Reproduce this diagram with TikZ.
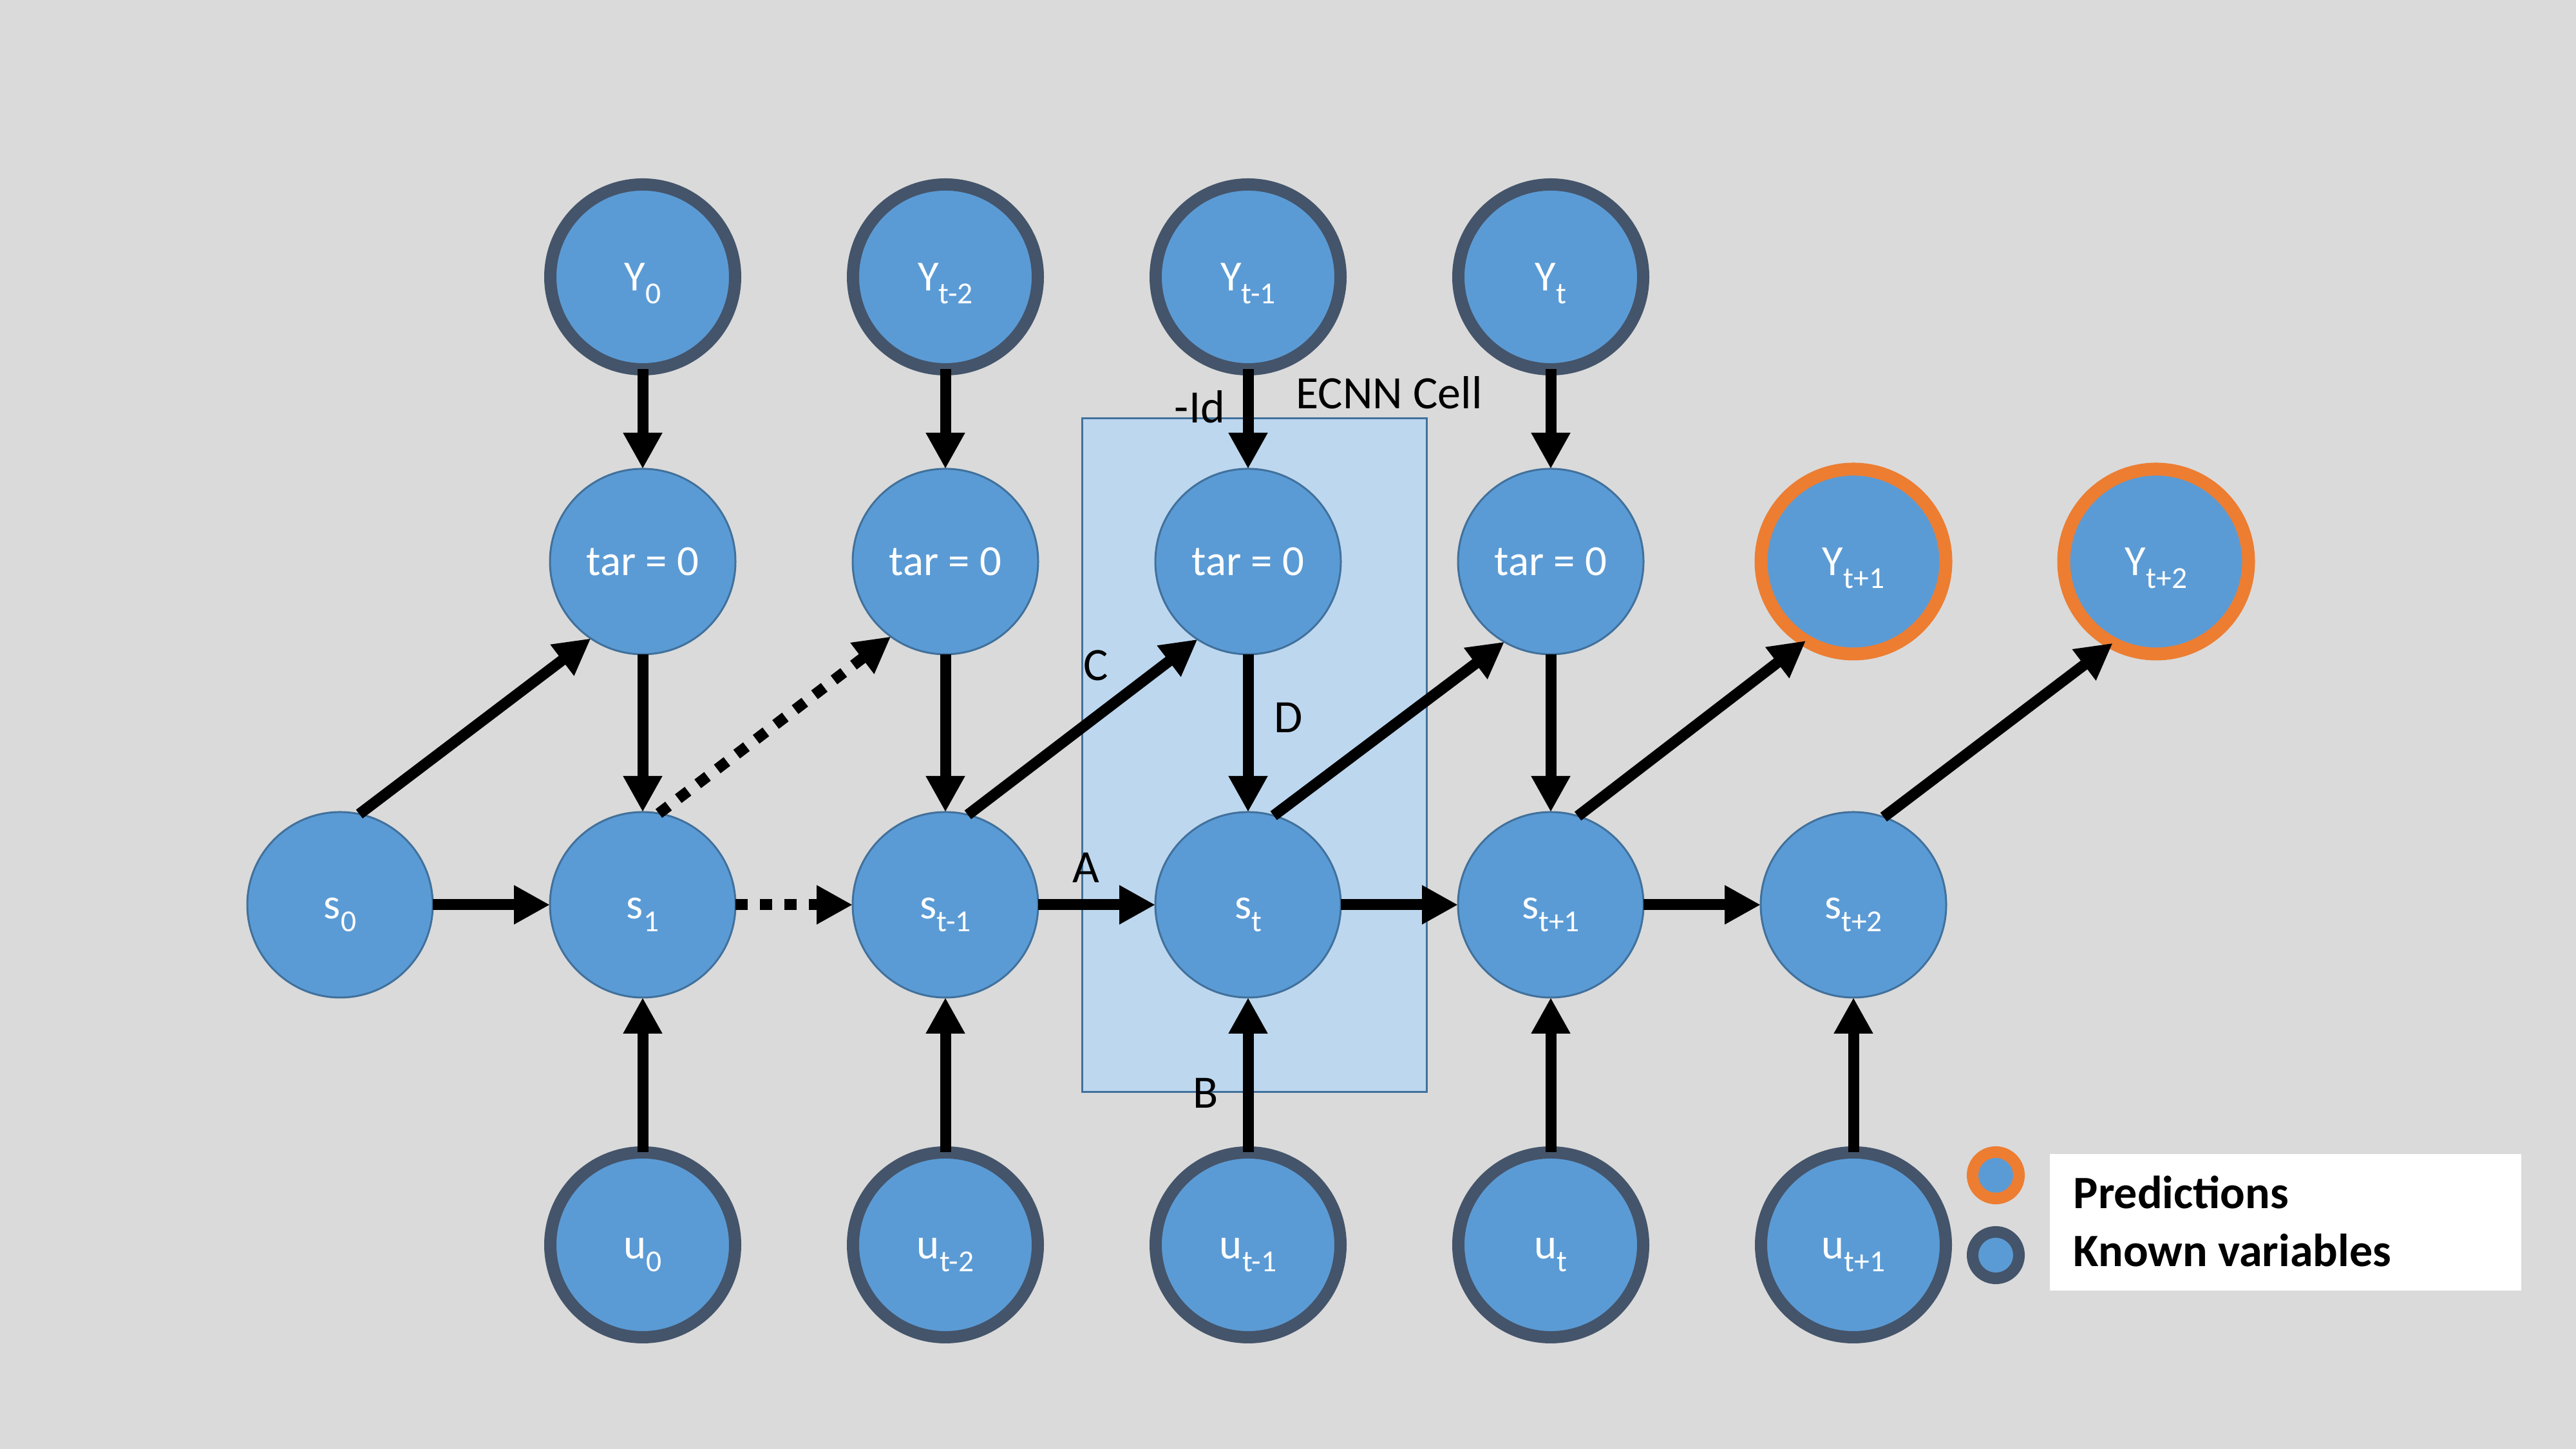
\documentclass[tikz,border=0pt]{standalone}
\usepackage{fontspec}
\setmainfont{Carlito}
\usepackage{tikz}
\usetikzlibrary{arrows.meta}

\definecolor{fons}{HTML}{DADADA}
\definecolor{blau}{HTML}{5B9BD5}
\definecolor{vora}{HTML}{41719C}
\definecolor{cella}{HTML}{BDD7EE}
\definecolor{conegut}{HTML}{44546A}
\definecolor{taronja}{HTML}{ED7D31}

\newcommand{\ix}[1]{\raisebox{-5.5pt}[0pt][0pt]{\fontsize{13.5}{14}\selectfont #1}}

\tikzset{
  estat/.style={circle, fill=blau, draw=vora, line width=0.3mm, minimum size=28.8mm,
    outer sep=0pt, inner sep=0pt, text=white, font=\fontsize{19}{22}\selectfont,
    text height=12.5pt, text depth=0pt},
  known/.style={estat, draw=conegut, line width=1.9mm, minimum size=28.7mm},
  pred/.style={estat, draw=taronja, line width=2mm, minimum size=28.7mm},
  fletxa/.style={line width=1.7mm, -{Triangle[length=5.6mm, width=5.7mm]}},
  puntejat/.style={fletxa, dash pattern=on 1.9mm off 1.9mm},
  etiq/.style={font=\fontsize{20.5}{24}\selectfont, inner sep=0pt}
}

\begin{document}
\begin{tikzpicture}
    % Fons
    \fill[fons] (0,0) rectangle (40,22.5);
    \useasboundingbox (0,0) rectangle (40,22.5);

    % Cel·la ECNN
    \draw[fill=cella, draw=vora, line width=0.3mm] (16.80,5.54) rectangle (22.15,16.00);

    % Nodes Y
    \node[known] (Y0)   at (9.98,18.2)  {Y\ix{0}};
    \node[known] (Ytm2) at (14.68,18.2) {Y\ix{t-2}};
    \node[known] (Ytm1) at (19.38,18.2) {Y\ix{t-1}};
    \node[known] (Yt)   at (24.08,18.2) {Y\ix{t}};
    \node[pred]  (Ytp1) at (28.78,13.78) {Y\ix{t+1}};
    \node[pred]  (Ytp2) at (33.48,13.78) {Y\ix{t+2}};

    % Nodes tar
    \node[estat] (tar1) at (9.98,13.78)  {tar = 0};
    \node[estat] (tar2) at (14.68,13.78) {tar = 0};
    \node[estat] (tar3) at (19.38,13.78) {tar = 0};
    \node[estat] (tar4) at (24.08,13.78) {tar = 0};

    % Nodes s
    \node[estat] (s0)   at (5.28,8.45)  {s\ix{0}};
    \node[estat] (s1)   at (9.98,8.45)  {s\ix{1}};
    \node[estat] (stm1) at (14.68,8.45) {s\ix{t-1}};
    \node[estat] (st)   at (19.38,8.45) {s\ix{t}};
    \node[estat] (stp1) at (24.08,8.45) {s\ix{t+1}};
    \node[estat] (stp2) at (28.78,8.45) {s\ix{t+2}};

    % Nodes u
    \node[known] (u0)   at (9.98,3.17)  {u\ix{0}};
    \node[known] (utm2) at (14.68,3.17) {u\ix{t-2}};
    \node[known] (utm1) at (19.38,3.17) {u\ix{t-1}};
    \node[known] (ut)   at (24.08,3.17) {u\ix{t}};
    \node[known] (utp1) at (28.78,3.17) {u\ix{t+1}};

    % Fletxes verticals
    \draw[fletxa] (Y0.south) -- (tar1.north);
    \draw[fletxa] (Ytm2.south) -- (tar2.north);
    \draw[fletxa] (Ytm1.south) -- (tar3.north);
    \draw[fletxa] (Yt.south) -- (tar4.north);
    \draw[fletxa] (tar1.south) -- (s1.north);
    \draw[fletxa] (tar2.south) -- (stm1.north);
    \draw[fletxa] (tar3.south) -- (st.north);
    \draw[fletxa] (tar4.south) -- (stp1.north);
    \draw[fletxa] (u0.north) -- (s1.south);
    \draw[fletxa] (utm2.north) -- (stm1.south);
    \draw[fletxa] (utm1.north) -- (st.south);
    \draw[fletxa] (ut.north) -- (stp1.south);
    \draw[fletxa] (utp1.north) -- (stp2.south);

    % Fletxes horitzontals
    \draw[fletxa] (s0.east) -- (s1.west);
    \draw[puntejat] (s1.east) -- (stm1.west);
    \draw[fletxa] (stm1.east) -- (st.west);
    \draw[fletxa] (st.east) -- (stp1.west);
    \draw[fletxa] (stp1.east) -- (stp2.west);

    % Fletxes diagonals
    \draw[fletxa] (s0.78) -- (tar1.236);
    \draw[puntejat] (s1.80) -- (tar2.234);
    \draw[fletxa] (stm1.76) -- (tar3.237);
    \draw[fletxa] (st.74) -- (tar4.240);
    \draw[fletxa] (stp1.73) -- (Ytp1.239);
    \draw[fletxa] (stp2.71) -- (Ytp2.242);

    % Etiquetes
    \node[etiq] (lId)   at (18.63,16.18) {-Id};
    \node[etiq] (lcell) at (21.57,16.40) {ECNN Cell};
    \node[etiq] (lC)    at (17.02,12.17) {C};
    \node[etiq] (lD)    at (20.01,11.36) {D};
    \node[etiq] (lA)    at (16.86,9.03)  {A};
    \node[etiq] (lB)    at (18.72,5.53)  {B};

    % Llegenda
    \fill[white] (31.83,2.46) rectangle (39.15,4.58);
    \node[estat, draw=taronja, line width=1.8mm, minimum size=7.2mm] (lpred) at (30.99,4.25) {};
    \node[estat, draw=conegut, line width=1.8mm, minimum size=7.2mm] (lknown) at (30.99,3.01) {};
    \node[etiq, anchor=base west, font=\fontsize{20.5}{24}\selectfont\bfseries] (tpred) at (32.19,3.73) {Predictions};
    \node[etiq, anchor=base west, font=\fontsize{20.5}{24}\selectfont\bfseries] (tknown) at (32.19,2.83) {Known variables};
\end{tikzpicture}
\end{document}
